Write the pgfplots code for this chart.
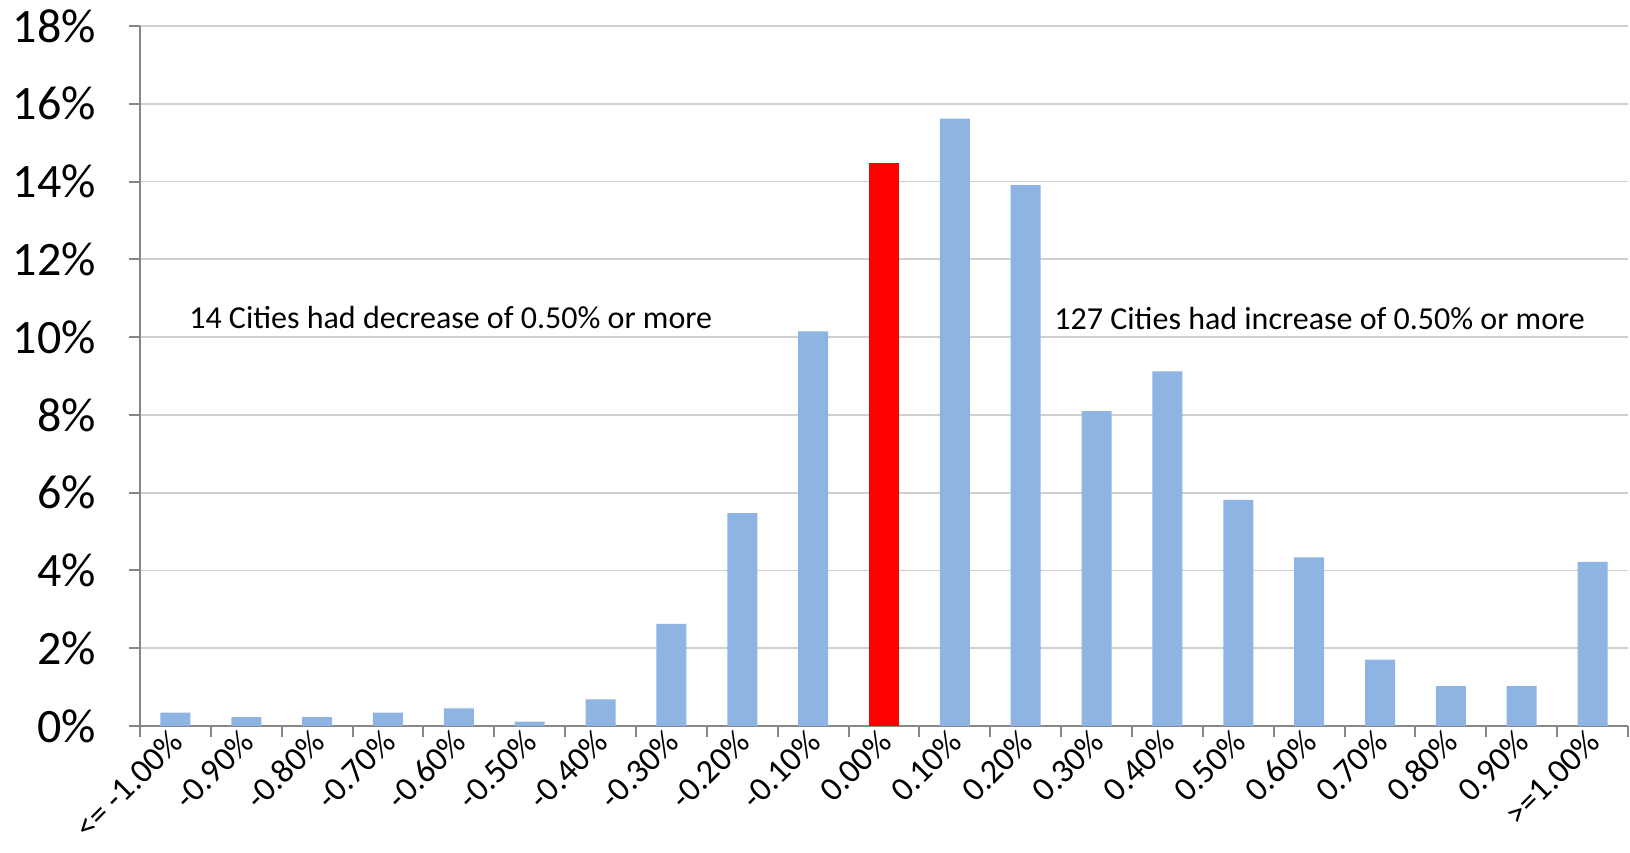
\documentclass[border=0pt]{standalone}
\usepackage{fontspec}
\setmainfont{Carlito}
\usepackage{pgfplots}
\pgfplotsset{compat=1.18}
\definecolor{barblue}{HTML}{8EB4E3}
\definecolor{axgray}{HTML}{868686}
\definecolor{gridgray}{HTML}{D0D0D0}
\begin{document}
\begin{tikzpicture}
\begin{axis}[
  scale only axis, width=744pt, height=350pt,
  xmin=-0.5, xmax=20.5, ymin=0, ymax=18,
  separate axis lines,
  axis x line*=bottom, axis y line*=left,
  axis line style={draw=axgray, line width=1pt, -},
  ytick={0,2,...,18},
  yticklabels={0\%,2\%,4\%,6\%,8\%,10\%,12\%,14\%,16\%,18\%},
  ymajorgrids, grid style={gridgray, line width=0.9pt},
  xtick={0,...,20},
  xticklabels={<= -1.00\%,-0.90\%,-0.80\%,-0.70\%,-0.60\%,-0.50\%,-0.40\%,-0.30\%,-0.20\%,-0.10\%,0.00\%,0.10\%,0.20\%,0.30\%,0.40\%,0.50\%,0.60\%,0.70\%,0.80\%,0.90\%,>=1.00\%},
  minor xtick={-0.5,0.5,...,20.5},
  tick align=outside, tick pos=left,
  major tick length=5.5pt, minor tick length=5.5pt,
  tick style={axgray, line width=1pt},
  major x tick style={draw=none},
  yticklabel style={font=\fontsize{24}{24}\selectfont, xshift=-13pt},
  xticklabel style={font=\fontsize{17}{17}\selectfont, rotate=45, anchor=east, inner sep=1pt, xshift=2pt},
  ybar, bar width=15pt, bar shift=0pt,
  clip=false,
]
\addplot[fill=barblue, draw=none] coordinates {
(0,0.342) (1,0.228) (2,0.228) (3,0.342) (4,0.456) (5,0.114) (6,0.684)
(7,2.623) (8,5.473) (9,10.148) (11,15.621) (12,13.911) (13,8.096)
(14,9.122) (15,5.815) (16,4.333) (17,1.710) (18,1.026) (19,1.026) (20,4.219)
};
\addplot[fill=red, draw=none] coordinates {(10,14.481)};
\node[anchor=west, inner sep=0pt, font=\fontsize{16}{16}\selectfont] at (axis cs:0.19,10.51) {14 Cities had decrease of 0.50\% or more};
\node[anchor=west, inner sep=0pt, font=\fontsize{16}{16}\selectfont] at (axis cs:12.40,10.49) {127 Cities had increase of 0.50\% or more};
\end{axis}
\pgfresetboundingbox
\path[use as bounding box] (-70pt,-63.15pt) rectangle (745pt,363pt);
\end{tikzpicture}
\end{document}
